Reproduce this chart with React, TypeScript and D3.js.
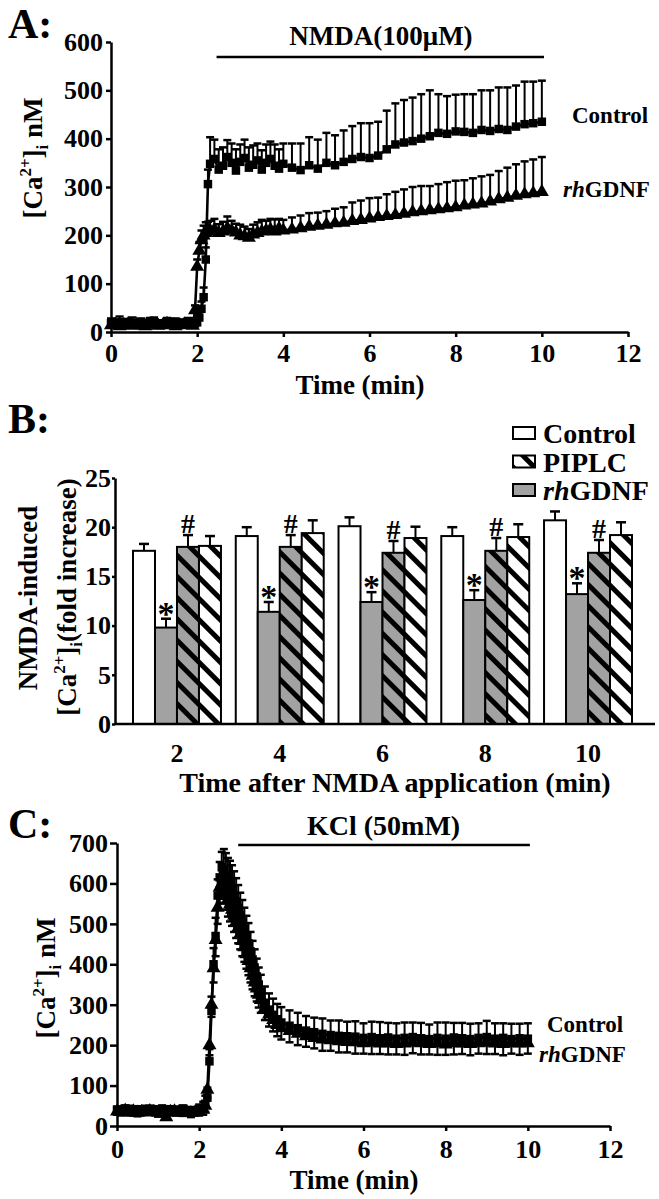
import { useEffect, useRef } from 'react';
import * as d3 from 'd3';

const FONT = '"Liberation Serif", "Times New Roman", serif';
const GRAY = '#a2a2a2';

// ---- A: NMDA(100uM) time course ----
const timeA = [
  0, 0.1, 0.2, 0.3, 0.4, 0.5, 0.6, 0.7, 0.8, 0.9, 1.0, 1.1, 1.2, 1.3, 1.4, 1.5, 1.6, 1.7, 1.8, 1.9,
  1.95, 2.0, 2.05, 2.1, 2.15, 2.2, 2.25,
  2.3, 2.4, 2.5, 2.6, 2.7, 2.8, 2.9, 3.0, 3.1, 3.2, 3.3, 3.4, 3.5, 3.6, 3.7, 3.8, 3.9, 4.0,
  4.2, 4.4, 4.6, 4.8, 5.0, 5.2, 5.4, 5.6, 5.8, 6.0, 6.2, 6.4, 6.6, 6.8, 7.0, 7.2, 7.4, 7.6, 7.8, 8.0,
  8.2, 8.4, 8.6, 8.8, 9.0, 9.2, 9.4, 9.6, 9.8, 10.0,
];
const controlA = [
  18, 16, 20, 15, 17, 19, 16, 18, 14, 17, 20, 16, 15, 18, 17, 19, 16, 15, 18, 17,
  18, 20, 30, 48, 72, 150, 306,
  348, 358, 336, 344, 362, 350, 334, 352, 360, 340, 346, 355, 336, 350, 358, 344, 338, 348,
  340, 335, 345, 338, 350, 345, 352, 358, 362, 360, 365, 378, 388, 392, 395, 400, 405, 412, 410, 415,
  414, 412, 418, 416, 420, 418, 425, 430, 432, 435,
];
const controlErrA = [
  10, 8, 12, 9, 10, 11, 8, 10, 9, 12, 10, 8, 9, 11, 10, 9, 10, 8, 11, 9,
  10, 10, 12, 15, 20, 25, 30,
  55, 40, 42, 38, 35, 40, 44, 36, 38, 42, 40, 35, 40, 38, 36, 44, 40, 42,
  50, 55, 58, 60, 62, 62, 65, 68, 70, 72, 70, 80, 85, 88, 90, 92, 95, 80, 78, 76,
  78, 80, 82, 84, 86, 88, 85, 88, 86, 85,
];
const gdnfA = [
  14, 16, 12, 15, 17, 13, 15, 14, 12, 16, 15, 13, 14, 17, 15, 12, 14, 16, 15, 13,
  45, 135, 168, 190, 200, 205, 208,
  210, 212, 205, 208, 215, 210, 206, 200, 198, 195, 202, 205, 208, 210, 212, 208, 214, 210,
  212, 215, 218, 220, 222, 225, 226, 230, 232, 235, 238, 240, 242, 245, 248, 250, 252, 254, 256, 258,
  262, 264, 266, 270, 275, 278, 282, 285, 287, 290,
];
const gdnfErrA = [
  8, 9, 7, 10, 8, 9, 7, 8, 10, 9, 8, 7, 9, 8, 10, 9, 8, 7, 9, 8,
  10, 15, 18, 20, 20, 22, 20,
  20, 22, 18, 20, 24, 20, 18, 22, 20, 18, 20, 22, 24, 20, 22, 25, 20, 22,
  25, 26, 28, 27, 28, 30, 32, 38, 40, 42, 40, 45, 48, 50, 52, 52, 50, 52, 54, 55,
  52, 54, 56, 55, 58, 62, 65, 68, 70, 72,
];
const xTicksA = [0, 2, 4, 6, 8, 10, 12];
const yTicksA = [0, 100, 200, 300, 400, 500, 600];

// ---- B: NMDA-induced fold increase ----
const groupsB = ['2', '4', '6', '8', '10'];
const seriesB = ['Control', 'rhGDNF', 'rhGDNF+PIPLC', 'PIPLC'];
const controlB = [17.6, 19.1, 20.1, 19.1, 20.7];
const controlErrB = [0.7, 0.9, 0.9, 0.9, 0.9];
const gdnfB = [9.8, 11.4, 12.4, 12.6, 13.2];
const gdnfErrB = [0.9, 1.0, 1.0, 1.0, 1.1];
const gdnfPiplcB = [18.0, 18.0, 17.4, 17.6, 17.4];
const gdnfPiplcErrB = [1.2, 1.2, 1.2, 1.3, 1.3];
const piplcB = [18.1, 19.4, 18.9, 19.0, 19.2];
const piplcErrB = [1.0, 1.3, 1.15, 1.3, 1.3];
const yTicksB = [0, 5, 10, 15, 20, 25];

// ---- C: KCl(50mM) time course ----
const timeC = [
  0, 0.1, 0.2, 0.3, 0.4, 0.5, 0.6, 0.7, 0.8, 0.9, 1.0, 1.1, 1.2, 1.3, 1.4, 1.5, 1.6, 1.7, 1.8, 1.9, 2.0, 2.1,
  2.15, 2.2, 2.25, 2.3, 2.35, 2.4, 2.45, 2.5, 2.55, 2.6, 2.65, 2.7, 2.75, 2.8, 2.85, 2.9, 2.95, 3.0,
  3.05, 3.1, 3.15, 3.2, 3.25, 3.3, 3.35, 3.4, 3.45, 3.5, 3.6, 3.7, 3.8, 3.9, 4.0,
  4.2, 4.4, 4.6, 4.8, 5.0, 5.2, 5.4, 5.6, 5.8, 6.0, 6.2, 6.4, 6.6, 6.8, 7.0, 7.2, 7.4, 7.6, 7.8, 8.0,
  8.2, 8.4, 8.6, 8.8, 9.0, 9.2, 9.4, 9.6, 9.8, 10.0,
];
const controlC = [
  40, 38, 42, 39, 41, 37, 40, 38, 42, 39, 36, 40, 38, 41, 39, 37, 40, 38, 36, 39, 41, 45,
  55, 70, 160, 285, 400, 470, 570, 615, 640, 635, 620, 608, 598, 585, 570, 555, 540, 522,
  505, 488, 470, 452, 432, 412, 392, 370, 350, 332, 305, 288, 275, 264, 256,
  248, 242, 236, 232, 228, 225, 223, 222, 221, 218, 220, 217, 219, 216, 218, 220, 217, 215, 218, 216,
  219, 217, 215, 218, 220, 216, 218, 215, 217, 216,
];
const controlErrC = [
  8, 10, 9, 11, 8, 10, 9, 12, 8, 10, 9, 11, 10, 8, 9, 10, 11, 9, 10, 8, 12, 15,
  20, 25, 30, 35, 40, 45, 40, 38, 38, 50, 55, 55, 58, 60, 60, 58, 56, 55,
  54, 52, 50, 50, 48, 46, 45, 44, 42, 42, 40, 40, 40, 38, 38,
  38, 38, 36, 36, 38, 36, 38, 36, 38, 36, 38, 40, 36, 38, 38, 36, 38, 36, 38, 40,
  36, 38, 38, 36, 40, 38, 36, 38, 36, 38,
];
const gdnfC = [
  36, 35, 38, 34, 36, 33, 35, 34, 37, 35, 33, 34, 22, 35, 36, 33, 34, 35, 32, 34, 36, 40,
  50, 90, 200, 300, 390, 460, 540, 590, 600, 590, 575, 560, 548, 535, 520, 505, 490, 475,
  458, 442, 425, 408, 390, 372, 355, 340, 325, 312, 292, 276, 262, 250, 242,
  235, 228, 222, 218, 214, 212, 210, 208, 207, 205, 206, 204, 205, 203, 204, 206, 205, 203, 204, 202,
  205, 204, 203, 205, 206, 204, 203, 205, 204, 205,
];
const gdnfErrC = [
  8, 9, 7, 8, 10, 9, 8, 7, 9, 8, 10, 8, 6, 9, 8, 7, 9, 8, 10, 8, 10, 12,
  15, 20, 25, 30, 35, 40, 40, 38, 38, 40, 40, 42, 42, 40, 40, 40, 38, 38,
  38, 36, 36, 35, 35, 34, 34, 32, 32, 32, 30, 30, 28, 28, 28,
  28, 28, 26, 26, 28, 26, 28, 26, 28, 26, 28, 26, 28, 26, 28, 26, 28, 26, 28, 26,
  28, 26, 28, 26, 28, 26, 28, 26, 28, 26,
];
const xTicksC = [0, 2, 4, 6, 8, 10, 12];
const yTicksC = [0, 100, 200, 300, 400, 500, 600, 700];

type Pt = { t: number; v: number; e: number };

function styleAxis(g: any) {
  g.attr('font-family', FONT).attr('font-size', 26).attr('font-weight', 'bold');
  g.select('.domain').attr('stroke-width', 2.5);
  g.selectAll('.tick line').attr('stroke-width', 2.5);
  g.selectAll('.tick text').attr('fill', '#000');
}

function drawTrace(g: any, x: any, y: any, times: number[], vals: number[], errs: number[],
  dir: number, symbol: any, size: number) {
  const pts: Pt[] = times.map((t, i) => ({ t, v: vals[i], e: errs[i] }));
  const eb = g.append('g').attr('stroke', '#000').attr('stroke-width', 2);
  eb.append('g').selectAll('line').data(pts).join('line')
    .attr('x1', (d: Pt) => x(d.t)).attr('x2', (d: Pt) => x(d.t))
    .attr('y1', (d: Pt) => y(d.v)).attr('y2', (d: Pt) => y(d.v + dir * d.e));
  eb.append('g').attr('stroke-width', 2.5).selectAll('line').data(pts).join('line')
    .attr('x1', (d: Pt) => x(d.t) - 4).attr('x2', (d: Pt) => x(d.t) + 4)
    .attr('y1', (d: Pt) => y(d.v + dir * d.e)).attr('y2', (d: Pt) => y(d.v + dir * d.e));
  const line = d3.line<Pt>().x(d => x(d.t)).y(d => y(d.v));
  g.append('path').datum(pts).attr('d', line).attr('fill', 'none')
    .attr('stroke', '#000').attr('stroke-width', 2.6);
  g.append('g').selectAll('path').data(pts).join('path')
    .attr('transform', (d: Pt) => `translate(${x(d.t)},${y(d.v)})`)
    .attr('d', d3.symbol().type(symbol).size(size)).attr('fill', '#000');
}

function yTitle(svg: any, x: number, y: number, parts: [string, number, number][], size = 27) {
  const t = svg.append('text').attr('transform', `translate(${x},${y}) rotate(-90)`)
    .attr('text-anchor', 'middle').attr('font-size', size);
  parts.forEach(([s, fs, dy]) => {
    t.append('tspan').attr('font-size', fs).attr('dy', dy).text(s);
  });
}

function seriesLabel(svg: any, x: number, y: number, italic: string, rest: string, size = 23) {
  const t = svg.append('text').attr('x', x).attr('y', y).attr('font-size', size);
  if (italic) t.append('tspan').attr('font-style', 'italic').text(italic);
  t.append('tspan').text(rest);
}

export default function App() {
  const svgRef = useRef<SVGSVGElement>(null);

  useEffect(() => {
    if (!svgRef.current) return;
    const svg = d3.select(svgRef.current);
    svg.selectAll('*').remove();
    svg.attr('font-family', FONT).attr('font-weight', 'bold');

    const defs = svg.append('defs');
    const hatch = (id: string, bg: string) => {
      const p = defs.append('pattern').attr('id', id).attr('patternUnits', 'userSpaceOnUse')
        .attr('width', 15).attr('height', 15).attr('patternTransform', 'rotate(-45)');
      p.append('rect').attr('width', 15).attr('height', 15).attr('fill', bg);
      p.append('rect').attr('width', 5).attr('height', 15).attr('fill', '#000');
    };
    hatch('hatchWhite', '#fff');
    hatch('hatchGray', GRAY);

    const ca = (nm: boolean): [string, number, number][] => [
      ['[Ca', 27, 0], ['2+', 17, -11], [']', 27, 11], ['i', 17, 6], [nm ? ' nM' : '(fold increase)', 27, -6],
    ];

    // ===== Panel A =====
    const xA = d3.scaleLinear().domain([0, 12]).range([111, 628]);
    const yA = d3.scaleLinear().domain([0, 600]).range([332, 42]);

    svg.append('text').attr('x', 8).attr('y', 38).attr('font-size', 42).text('A:');

    svg.append('g').attr('transform', `translate(${xA(0)},0)`)
      .call(d3.axisLeft(yA).tickValues(yTicksA).tickSize(5).tickPadding(3).tickSizeOuter(0))
      .call(styleAxis);
    svg.append('g').attr('transform', `translate(0,${yA(0)})`)
      .call(d3.axisBottom(xA).tickValues(xTicksA).tickSize(5).tickPadding(7).tickSizeOuter(0))
      .call(styleAxis);

    const gA = svg.append('g');
    drawTrace(gA, xA, yA, timeA, gdnfA, gdnfErrA, 1, d3.symbolTriangle, 85);
    drawTrace(gA, xA, yA, timeA, controlA, controlErrA, 1, d3.symbolSquare, 72);

    svg.append('line').attr('x1', xA(2.45)).attr('x2', xA(10.05)).attr('y1', 57).attr('y2', 57)
      .attr('stroke', '#000').attr('stroke-width', 2.5);
    svg.append('text').attr('x', 381).attr('y', 45).attr('text-anchor', 'middle')
      .attr('font-size', 27).text('NMDA(100μM)');
    seriesLabel(svg, 572, 123, '', 'Control');
    seriesLabel(svg, 563, 197, 'rh', 'GDNF');
    svg.append('text').attr('x', 360).attr('y', 394).attr('text-anchor', 'middle')
      .attr('font-size', 27).text('Time (min)');
    yTitle(svg, 42, 158, ca(true));

    // ===== Panel B =====
    const x0 = d3.scaleBand().domain(groupsB).range([125.6, 639.4]).paddingInner(0.144).paddingOuter(0.072);
    const x1 = d3.scaleBand().domain(seriesB).range([0, x0.bandwidth()]);
    const yB = d3.scaleLinear().domain([0, 25]).range([724, 478]);
    const valsB = [controlB, gdnfB, gdnfPiplcB, piplcB];
    const errsB = [controlErrB, gdnfErrB, gdnfPiplcErrB, piplcErrB];
    const fillsB = ['#fff', GRAY, 'url(#hatchGray)', 'url(#hatchWhite)'];

    svg.append('text').attr('x', 8).attr('y', 433).attr('font-size', 42).text('B:');

    const bars = seriesB.flatMap((s, si) => groupsB.map((g, gi) => ({
      g, s, si, v: valsB[si][gi], e: errsB[si][gi],
    })));
    const cx = (d: { g: string; s: string }) => x0(d.g)! + x1(d.s)! + x1.bandwidth() / 2;
    const gB = svg.append('g');
    gB.append('g').attr('stroke', '#000').attr('stroke-width', 2)
      .selectAll('line').data(bars).join('line')
      .attr('x1', cx).attr('x2', cx)
      .attr('y1', d => yB(d.v)).attr('y2', d => yB(d.v + d.e));
    gB.append('g').attr('stroke', '#000').attr('stroke-width', 2.5)
      .selectAll('line').data(bars).join('line')
      .attr('x1', d => cx(d) - 5).attr('x2', d => cx(d) + 5)
      .attr('y1', d => yB(d.v + d.e)).attr('y2', d => yB(d.v + d.e));
    gB.append('g').selectAll('rect').data(bars).join('rect')
      .attr('x', d => x0(d.g)! + x1(d.s)!)
      .attr('y', d => yB(d.v))
      .attr('width', x1.bandwidth())
      .attr('height', d => yB(0) - yB(d.v))
      .attr('fill', d => fillsB[d.si])
      .attr('stroke', '#000').attr('stroke-width', 2);

    // significance marks: * vs control, # vs rhGDNF
    gB.append('g').selectAll('text').data(bars.filter(d => d.si === 1 || d.si === 2)).join('text')
      .attr('x', cx)
      .attr('y', d => yB(d.v + d.e) + (d.si === 1 ? 6 : -2))
      .attr('text-anchor', 'middle')
      .attr('font-size', d => (d.si === 1 ? 34 : 28))
      .text(d => (d.si === 1 ? '*' : '#'));

    svg.append('g').attr('transform', `translate(115,0)`)
      .call(d3.axisLeft(yB).tickValues(yTicksB).tickSize(3).tickPadding(1).tickSizeOuter(0))
      .call(styleAxis);
    svg.append('line').attr('x1', 115).attr('x2', 655).attr('y1', yB(0)).attr('y2', yB(0))
      .attr('stroke', '#000').attr('stroke-width', 2.5);
    svg.append('g').selectAll('text').data(groupsB).join('text')
      .attr('x', d => x0(d)! + x0.bandwidth() / 2).attr('y', 762)
      .attr('text-anchor', 'middle').attr('font-size', 26).text(d => d);
    svg.append('text').attr('x', 395).attr('y', 792).attr('text-anchor', 'middle')
      .attr('font-size', 28).text('Time after NMDA application (min)');
    yTitle(svg, 37, 598, [['NMDA-induced', 27, 0]]);
    yTitle(svg, 76, 597, ca(false));

    // legend
    const legend = [
      { label: 'Control', fill: '#fff', it: '' },
      { label: 'PIPLC', fill: 'url(#hatchWhite)', it: '' },
      { label: 'GDNF', fill: GRAY, it: 'rh' },
    ];
    legend.forEach((d, i) => {
      const cy = 433 + i * 28.5;
      svg.append('rect').attr('x', 513).attr('y', cy - 6).attr('width', 22).attr('height', 12)
        .attr('fill', d.fill).attr('stroke', '#000').attr('stroke-width', 2);
      seriesLabel(svg, 543, cy + 10, d.it, d.label, 28);
    });

    // ===== Panel C =====
    const xC = d3.scaleLinear().domain([0, 12]).range([117, 610]);
    const yC = d3.scaleLinear().domain([0, 700]).range([1126, 843]);

    svg.append('text').attr('x', 8).attr('y', 838).attr('font-size', 42).text('C:');

    svg.append('g').attr('transform', `translate(${xC(0)},0)`)
      .call(d3.axisLeft(yC).tickValues(yTicksC).tickSize(7).tickPadding(2).tickSizeOuter(0))
      .call(styleAxis);
    svg.append('g').attr('transform', `translate(0,${yC(0)})`)
      .call(d3.axisBottom(xC).tickValues(xTicksC).tickSize(5).tickPadding(9).tickSizeOuter(0))
      .call(styleAxis);

    const gC = svg.append('g');
    drawTrace(gC, xC, yC, timeC, gdnfC, gdnfErrC, -1, d3.symbolTriangle, 85);
    drawTrace(gC, xC, yC, timeC, controlC, controlErrC, 1, d3.symbolSquare, 72);

    svg.append('line').attr('x1', xC(2.95)).attr('x2', xC(10.05)).attr('y1', 845).attr('y2', 845)
      .attr('stroke', '#000').attr('stroke-width', 2.5);
    svg.append('text').attr('x', 307).attr('y', 835).attr('font-size', 28).text('KCl (50mM)');
    seriesLabel(svg, 547, 1032, '', 'Control');
    seriesLabel(svg, 539, 1062, 'rh', 'GDNF');
    svg.append('text').attr('x', 354).attr('y', 1189).attr('text-anchor', 'middle')
      .attr('font-size', 27).text('Time (min)');
    yTitle(svg, 55, 978, ca(true));
  }, []);

  return (
    <svg ref={svgRef} width={659} height={1199}
      style={{ position: 'absolute', left: 0, top: 0, background: '#fff' }} />
  );
}
